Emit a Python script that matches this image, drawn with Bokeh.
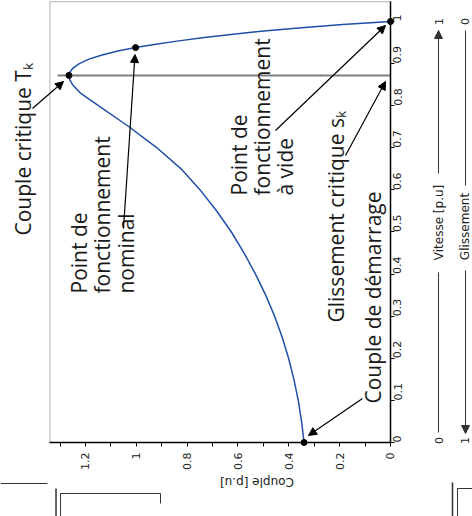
import math
from bokeh.plotting import figure
from bokeh.models import (Range1d, Label, Arrow, NormalHead, FixedTicker,
                          CustomJSTickFormatter, BoxAnnotation)
from bokeh.embed import file_html
from bokeh.resources import INLINE

# ---------------- data ----------------
speed = [0.00, 0.05, 0.10, 0.15, 0.20, 0.25, 0.30, 0.35, 0.40, 0.45, 0.50,
         0.55, 0.60, 0.65, 0.70, 0.75, 0.80, 0.83, 0.85, 0.862, 0.872,
         0.880, 0.890, 0.900, 0.910, 0.920, 0.930, 0.938, 0.946, 0.954,
         0.962, 0.970, 0.978, 0.986, 0.993, 1.000]
torque = [0.340, 0.350, 0.363, 0.380, 0.401, 0.426, 0.456, 0.491, 0.531,
          0.576, 0.626, 0.684, 0.749, 0.824, 0.919, 1.029, 1.149, 1.220,
          1.251, 1.262, 1.265, 1.261, 1.248, 1.224, 1.189, 1.138, 1.073,
          1.003, 0.923, 0.833, 0.733, 0.618, 0.488, 0.338, 0.188, 0.000]

point_speed = [0.0, 0.872, 0.938, 1.0]
point_torque = [0.34, 1.265, 1.003, 0.0]

crit_speed = [0.872, 0.872]
crit_torque = [0.0, 1.31]

torque_ticks = [0, 0.2, 0.4, 0.6, 0.8, 1.0, 1.2]
torque_minor = [0.1, 0.3, 0.5, 0.7, 0.9, 1.1, 1.3]
speed_ticks = [0, 0.1, 0.2, 0.3, 0.4, 0.5, 0.6, 0.7, 0.8, 0.9, 1.0]

torque_max = 1.34
speed_max = 1.047

ANN_FONT = "Open Sans"
TICK_FONT = "DejaVu Sans"

# ---------------- figure ----------------
p = figure(width=472, height=516, output_backend="svg", toolbar_location=None,
           x_range=Range1d(1.5344, -0.3226), y_range=Range1d(-0.1758, 1.0499),
           y_axis_location="right",
           min_border_left=0, min_border_right=0,
           min_border_top=0, min_border_bottom=0)
p.styles = {"position": "absolute", "left": "0px", "top": "0px"}
p.xgrid.visible = False
p.ygrid.visible = False
p.outline_line_color = None
p.background_fill_color = "white"
p.border_fill_color = "white"

fmt = CustomJSTickFormatter(code="return String(Math.round(tick*10)/10);")

xa = p.xaxis[0]
xa.fixed_location = 0
xa.bounds = (0, torque_max)
xa.ticker = FixedTicker(ticks=torque_ticks, minor_ticks=torque_minor)
xa.formatter = fmt
xa.major_label_orientation = math.pi / 2
xa.major_label_standoff = 6
xa.major_tick_in = 0
xa.major_tick_out = 4
xa.minor_tick_in = 0
xa.minor_tick_out = 4
xa.axis_line_color = "black"
xa.axis_line_width = 1.5
xa.major_label_text_font = TICK_FONT
xa.major_label_text_font_size = "11px"
xa.major_label_text_color = "#222222"
xa.axis_label = "Couple [p.u]"
xa.axis_label_orientation = math.pi
xa.axis_label_standoff = 9
xa.axis_label_text_font = TICK_FONT
xa.axis_label_text_font_size = "12px"
xa.axis_label_text_font_style = "normal"
xa.axis_label_text_color = "#222222"

ya = p.yaxis[0]
ya.fixed_location = 0
ya.bounds = (0, speed_max)
ya.ticker = FixedTicker(ticks=speed_ticks, minor_ticks=[])
ya.formatter = fmt
ya.major_label_orientation = math.pi / 2
ya.major_label_standoff = 3
ya.major_tick_in = 0
ya.major_tick_out = 4
ya.axis_line_color = "black"
ya.axis_line_width = 1.5
ya.major_label_text_font = TICK_FONT
ya.major_label_text_font_size = "11px"
ya.major_label_text_color = "#222222"

# plot box (left and top edges)
p.add_layout(BoxAnnotation(left=0, right=torque_max, bottom=0, top=speed_max,
                           fill_alpha=0, line_color="black", line_width=1,
                           level="underlay"))

# ---------------- glyphs ----------------
p.line(crit_torque, crit_speed, line_color="#7f7f7f", line_width=2)
p.line(torque, speed, line_color="#1f4fa6", line_width=1.5)
p.scatter(point_torque, point_speed, size=6, color="black")

# ---------------- annotations ----------------
def lab(x, y, text, align="left", baseline="alphabetic", size="21px",
        font=ANN_FONT, color="#1a1a1a"):
    p.add_layout(Label(x=x, y=y, text=text, angle=math.pi / 2,
                       text_font=font, text_font_size=size,
                       text_align=align, text_baseline=baseline,
                       text_color=color))

def arrow(x0, y0, x1, y1, head=True, color="black", width=1.2):
    end = NormalHead(size=8, fill_color=color, line_color=color) if head else None
    p.add_layout(Arrow(end=end, x_start=x0, y_start=y0, x_end=x1, y_end=y1,
                       line_color=color, line_width=width))

lab(1.4440, 0.4917, "Couple critique T\u2096")
# "Point de fonctionnement nominal" (three lines)
lab(1.2236, 0.3539, "Point de")
lab(1.1331, 0.3539, "fonctionnement")
lab(1.0426, 0.3539, "nominal")
# "Point de fonctionnement à vide" (three lines)
lab(0.5980, 0.5867, "Point de")
lab(0.5075, 0.5867, "fonctionnement")
lab(0.4170, 0.5867, "\u00e0 vide")
lab(0.2164, 0.2850, "Glissement critique s\u2096")
lab(0.0690, 0.0926, "Couple de d\u00e9marrage")

arrow(1.4085, 0.7933, 1.2865, 0.8575)
arrow(1.0505, 0.5083, 1.0052, 0.9216)
arrow(0.1102, 0.1045, 0.3226, 0.0166)
arrow(0.1770, 0.6817, 0.0197, 0.8575)
arrow(0.4525, 0.7411, 0.0197, 0.9905)

# speed / slip direction indicators to the right of the axis
VX = -0.1889
GX = -0.2950
grey = "#333333"
arrow(VX, 0.0238, VX, 0.404, head=False, color=grey, width=1)
arrow(VX, 0.639, VX, 0.9786, color=grey, width=1)
arrow(GX, 0.9786, GX, 0.6105, head=False, color=grey, width=1)
arrow(GX, 0.4086, GX, 0.0214, color=grey, width=1)
small = dict(align="center", baseline="middle", size="11px", font=TICK_FONT,
             color="#222222")
lab(VX, 0.0048, "0", **small)
lab(VX, 1.0, "1", **small)
lab(GX, 1.0, "0", **small)
lab(GX, 0.0048, "1", **small)
mid = dict(small, size="12px")
lab(VX, 0.5226, "Vitesse [p.u]", **mid)
lab(GX, 0.513, "Glissement", **mid)

# cropped fragments of neighbouring panels at the bottom edge
frag = "#333333"
arrow(1.5344, -0.0974, 1.3495, -0.0974, head=False, color=frag, width=1)
arrow(1.316, -0.1093, 1.316, -0.1758, head=False, color=frag, width=1.5)
arrow(1.2984, -0.1211, 0.9049, -0.1211, head=False, color=frag, width=1)
arrow(1.2984, -0.1211, 1.2984, -0.1758, head=False, color=frag, width=1)
arrow(0.9049, -0.1211, 0.9049, -0.1449, head=False, color=frag, width=1)
arrow(-0.2439, -0.0950, -0.2439, -0.1758, head=False, color=frag, width=1.5)
arrow(-0.2636, -0.1093, -0.2636, -0.1758, head=False, color=frag, width=1)
arrow(-0.2636, -0.1093, -0.3226, -0.1093, head=False, color=frag, width=1)

open("out.html", "w").write(file_html(p, INLINE))
